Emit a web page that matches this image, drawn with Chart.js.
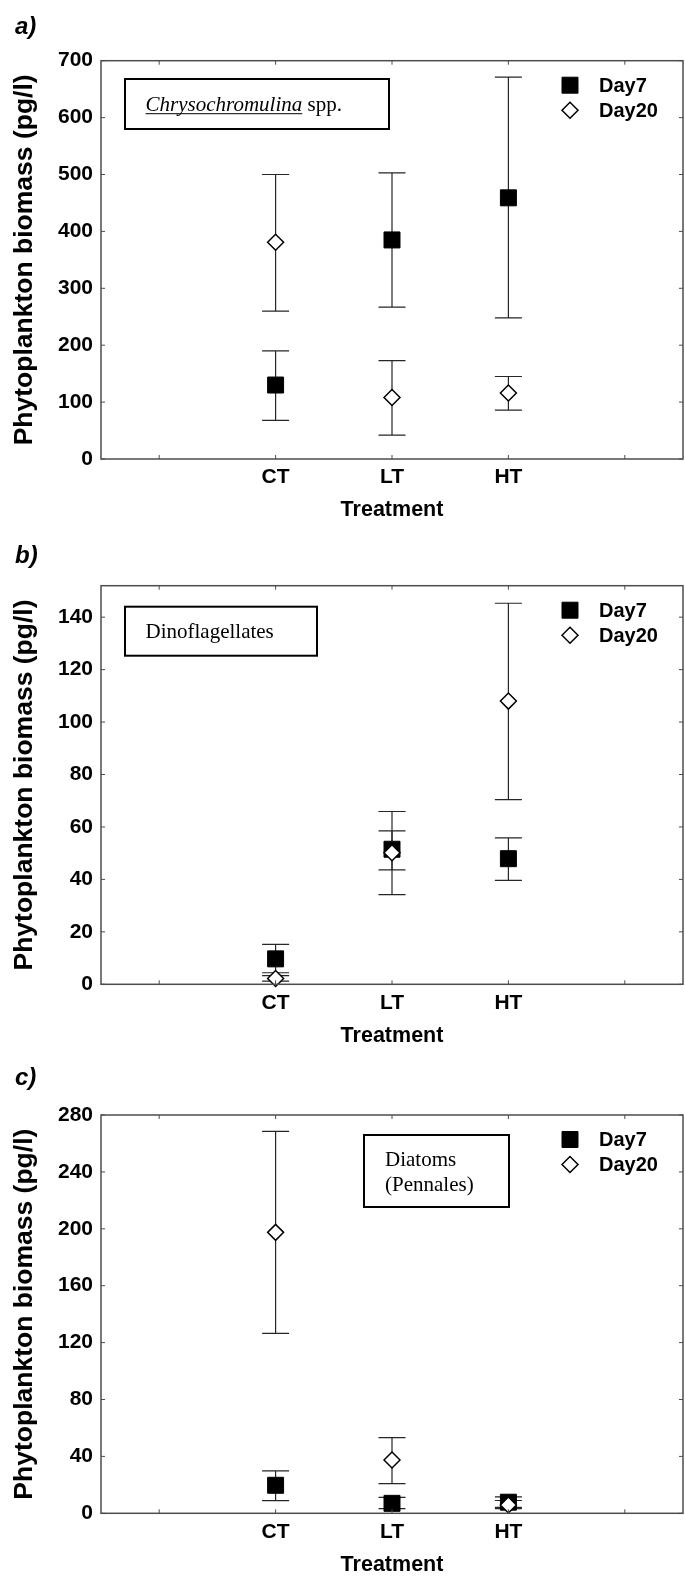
<!DOCTYPE html>
<html>
<head>
<meta charset="utf-8">
<title>Phytoplankton biomass by treatment</title>
<script src="https://cdn.jsdelivr.net/npm/chart.js@4.4.0/dist/chart.umd.min.js"></script>
<style>
  html, body { margin: 0; padding: 0; background: #fff; overflow: hidden; }
  #page { position: relative; width: 685px; height: 1578px; overflow: hidden; }
  .panel { position: absolute; left: 0; width: 685px; height: 526px; }
  .panel canvas { display: block; }
</style>
</head>
<body>
<div id="page">
  <div class="panel" style="top:0px"><canvas id="chartA"></canvas></div>
  <div class="panel" style="top:526px"><canvas id="chartB"></canvas></div>
  <div class="panel" style="top:1052px"><canvas id="chartC"></canvas></div>
</div>
<script>
var treatments = ['CT', 'LT', 'HT'];
var seriesNames = ['Day7', 'Day20'];

// a) Chrysochromulina spp.
var chrysoDay7 = [130, 385, 459];
var chrysoDay7Low = [68, 267, 248];
var chrysoDay7High = [190, 503, 671];
var chrysoDay20 = [381, 108, 116];
var chrysoDay20Low = [260, 42, 86];
var chrysoDay20High = [500, 173, 145];
var chrysoAxisMax = 700, chrysoAxisStep = 100;

// b) Dinoflagellates
var dinoDay7 = [9.7, 51.5, 47.9];
var dinoDay7Low = [4.4, 34.2, 39.6];
var dinoDay7High = [15.2, 65.9, 55.8];
var dinoDay20 = [2.2, 50.2, 108];
var dinoDay20Low = [1.2, 43.6, 70.4];
var dinoDay20High = [3.3, 58.5, 145.3];
var dinoAxisMax = 152, dinoAxisStep = 20;

// c) Diatoms (Pennales)
var diatomDay7 = [19.7, 7.0, 7.8];
var diatomDay7Low = [8.9, 3.3, 3.3];
var diatomDay7High = [29.8, 11.2, 11.5];
var diatomDay20 = [197.5, 37.5, 5.8];
var diatomDay20Low = [126.5, 20.9, 4.2];
var diatomDay20High = [268.5, 53.2, 9.0];
var diatomAxisMax = 280, diatomAxisStep = 40;

var SANS = "'Liberation Sans', Arial, Helvetica, sans-serif";
var SERIF = "'Liberation Serif', 'Times New Roman', serif";
var PANEL_W = 685, PANEL_H = 526;

function drawMarker(ctx, style, x, y, r, fill, stroke, lw) {
	ctx.beginPath();
	if (style === 'rect') {
		var s = r * Math.SQRT1_2;
		ctx.rect(x - s, y - s, 2 * s, 2 * s);
	} else {
		ctx.moveTo(x - r, y);
		ctx.lineTo(x, y - r);
		ctx.lineTo(x + r, y);
		ctx.lineTo(x, y + r);
		ctx.closePath();
	}
	ctx.fillStyle = fill;
	ctx.fill();
	ctx.lineWidth = lw;
	ctx.strokeStyle = stroke;
	ctx.stroke();
}

// error bars, drawn under the markers
var errorBars = {
	id: 'errorBars',
	beforeDatasetsDraw: function (chart) {
		var ctx = chart.ctx, y = chart.scales.y;
		ctx.save();
		ctx.strokeStyle = '#262626';
		ctx.lineWidth = 1.2;
		chart.data.datasets.forEach(function (ds, di) {
			var meta = chart.getDatasetMeta(di);
			meta.data.forEach(function (pt, i) {
				if (ds.errLow[i] == null) return;
				var y1 = y.getPixelForValue(ds.errLow[i]);
				var y2 = y.getPixelForValue(ds.errHigh[i]);
				ctx.beginPath();
				ctx.moveTo(pt.x, y1); ctx.lineTo(pt.x, y2);
				ctx.moveTo(pt.x - 13.5, y1); ctx.lineTo(pt.x + 13.5, y1);
				ctx.moveTo(pt.x - 13.5, y2); ctx.lineTo(pt.x + 13.5, y2);
				ctx.stroke();
			});
		});
		ctx.restore();
	}
};

// frame, inward ticks, legend, note box and panel letter
var panelMarks = {
	id: 'panelMarks',
	afterDraw: function (chart, args, opts) {
		var ctx = chart.ctx, a = chart.chartArea;
		var x = chart.scales.x, y = chart.scales.y;
		ctx.save();

		ctx.strokeStyle = '#4d4d4d';
		ctx.lineWidth = 1.5;
		ctx.strokeRect(a.left, a.top, a.right - a.left, a.bottom - a.top);

		ctx.lineWidth = 1;
		ctx.beginPath();
		x.ticks.forEach(function (t, i) {
			var px = x.getPixelForTick(i);
			ctx.moveTo(px, a.bottom); ctx.lineTo(px, a.bottom - 4);
			ctx.moveTo(px, a.top); ctx.lineTo(px, a.top + 4);
		});
		y.ticks.forEach(function (t, i) {
			var py = y.getPixelForTick(i);
			ctx.moveTo(a.left, py); ctx.lineTo(a.left + 4, py);
			ctx.moveTo(a.right, py); ctx.lineTo(a.right - 4, py);
		});
		ctx.stroke();

		// legend
		ctx.font = 'bold 20px ' + SANS;
		ctx.textBaseline = 'middle';
		ctx.textAlign = 'left';
		chart.data.datasets.forEach(function (ds, i) {
			var ly = a.top + 24.5 + i * 25;
			drawMarker(ctx, ds.pointStyle, a.right - 113, ly, ds.pointRadius,
				ds.pointBackgroundColor, ds.pointBorderColor, ds.pointBorderWidth);
			ctx.fillStyle = '#000';
			ctx.fillText(ds.label, a.right - 84, ly + 1);
		});

		// note box
		var n = opts.note;
		ctx.strokeStyle = '#000';
		ctx.lineWidth = 2;
		ctx.strokeRect(a.left + n.x, a.top + n.y, n.w, n.h);
		ctx.fillStyle = '#000';
		n.lines.forEach(function (line) {
			var tx = a.left + n.textX, ty = a.top + line.y;
			line.parts.forEach(function (part) {
				ctx.font = (part.italic ? 'italic ' : '') + '21px ' + SERIF;
				ctx.textBaseline = 'alphabetic';
				var w = ctx.measureText(part.text).width;
				ctx.fillText(part.text, tx, ty + 7);
				if (part.underline) {
					ctx.lineWidth = 1;
					ctx.beginPath();
					ctx.moveTo(tx, ty + 9.5); ctx.lineTo(tx + w, ty + 9.5);
					ctx.stroke();
				}
				tx += w;
			});
		});

		// panel letter
		ctx.font = 'italic bold 24px ' + SANS;
		ctx.textBaseline = 'alphabetic';
		ctx.fillText(opts.letter, 15, opts.letterY);
		ctx.restore();
	}
};

function makePanel(id, p) {
	var pad = function (arr) { return [null].concat(arr, [null]); };
	var tickFont = { family: SANS, size: 21, weight: 'bold' };
	var cv = document.getElementById(id);
	cv.width = PANEL_W;
	cv.height = PANEL_H;
	new Chart(cv, {
		type: 'line',
		data: {
			labels: [''].concat(treatments, ['']),
			datasets: [{
				label: seriesNames[0],
				data: pad(p.day7),
				errLow: pad(p.day7Low),
				errHigh: pad(p.day7High),
				showLine: false,
				pointStyle: 'rect',
				pointRadius: 11.3,
				pointBackgroundColor: '#000',
				pointBorderColor: '#000',
				pointBorderWidth: 1,
				clip: false,
				order: 1
			}, {
				label: seriesNames[1],
				data: pad(p.day20),
				errLow: pad(p.day20Low),
				errHigh: pad(p.day20High),
				showLine: false,
				pointStyle: 'rectRot',
				pointRadius: 8,
				pointBackgroundColor: '#fff',
				pointBorderColor: '#000',
				pointBorderWidth: 1.5,
				clip: false,
				order: 0
			}]
		},
		plugins: [errorBars, panelMarks],
		options: {
			responsive: false,
			animation: false,
			devicePixelRatio: 1,
			layout: { autoPadding: false, padding: { top: p.top, right: 2, bottom: 0, left: 0 } },
			scales: {
				x: {
					type: 'category',
					offset: true,
					grid: { display: false, drawTicks: false },
					border: { display: false },
					ticks: { autoSkip: false, maxRotation: 0, padding: 6, color: '#000', font: tickFont },
					title: {
						display: true, text: 'Treatment', color: '#000',
						font: { family: SANS, size: 21.5, weight: 'bold' },
						padding: { top: 0, bottom: (PANEL_H - p.bottom) - 12.9 - 51.5 }
					},
					afterFit: function (s) { s.height = PANEL_H - p.bottom; }
				},
				y: {
					min: 0,
					max: p.max,
					grid: { display: false, drawTicks: false },
					border: { display: false },
					ticks: { stepSize: p.step, includeBounds: false, padding: 8, color: '#000', font: tickFont },
					title: {
						display: true, text: 'Phytoplankton biomass (pg/l)', color: '#000',
						font: { family: SANS, size: 26.5, weight: 'bold' },
						padding: { top: 9, bottom: 0 }
					},
					afterFit: function (s) { s.width = 101; }
				}
			},
			plugins: {
				legend: { display: false },
				tooltip: { enabled: false },
				panelMarks: { letter: p.letter, letterY: p.letterY, note: p.note }
			}
		}
	});
}

makePanel('chartA', {
	day7: chrysoDay7, day7Low: chrysoDay7Low, day7High: chrysoDay7High,
	day20: chrysoDay20, day20Low: chrysoDay20Low, day20High: chrysoDay20High,
	max: chrysoAxisMax, step: chrysoAxisStep,
	top: 60.7, bottom: 459, letter: 'a)', letterY: 34,
	note: { x: 24, y: 18.3, w: 264, h: 50, textX: 44.5,
		lines: [{ y: 43.5, parts: [{ text: 'Chrysochromulina', italic: true, underline: true }, { text: ' spp.' }] }] }
});

makePanel('chartB', {
	day7: dinoDay7, day7Low: dinoDay7Low, day7High: dinoDay7High,
	day20: dinoDay20, day20Low: dinoDay20Low, day20High: dinoDay20High,
	max: dinoAxisMax, step: dinoAxisStep,
	top: 59.7, bottom: 458.3, letter: 'b)', letterY: 37,
	note: { x: 24, y: 21, w: 192, h: 49, textX: 44.5,
		lines: [{ y: 45.5, parts: [{ text: 'Dinoflagellates' }] }] }
});

makePanel('chartC', {
	day7: diatomDay7, day7Low: diatomDay7Low, day7High: diatomDay7High,
	day20: diatomDay20, day20Low: diatomDay20Low, day20High: diatomDay20High,
	max: diatomAxisMax, step: diatomAxisStep,
	top: 63, bottom: 461.3, letter: 'c)', letterY: 33,
	note: { x: 263, y: 20, w: 145, h: 72, textX: 284,
		lines: [{ y: 43.5, parts: [{ text: 'Diatoms' }] }, { y: 68.5, parts: [{ text: '(Pennales)' }] }] }
});
</script>
</body>
</html>
